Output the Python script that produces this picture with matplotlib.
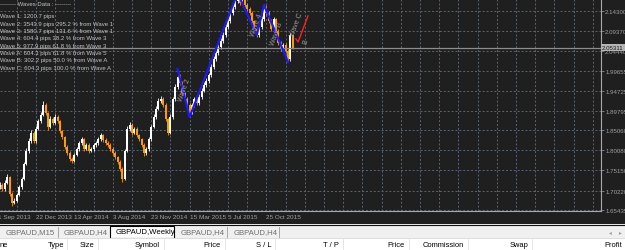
import matplotlib
matplotlib.use('Agg')
import matplotlib.pyplot as plt
from matplotlib.patches import Rectangle

# weekly GBPAUD candles
first_open = 1.7100
closes = [1.7158, 1.7059, 1.7207, 1.7354, 1.6937, 1.6716, 1.6765, 1.6912, 1.7108, 1.7305,
          1.7673, 1.7992, 1.8238, 1.8434, 1.8238, 1.8533, 1.8729, 1.8876, 1.9122, 1.8926,
          1.8582, 1.8778, 1.8680, 1.8827, 1.8729, 1.8483, 1.8336, 1.8091, 1.7943, 1.7796,
          1.7747, 1.7894, 1.8042, 1.8189, 1.8287, 1.8042, 1.8140, 1.7992, 1.8042, 1.8140,
          1.8189, 1.8287, 1.8385, 1.8262, 1.8189, 1.8140, 1.8042, 1.7943, 1.7845, 1.7722,
          1.7550, 1.7305, 1.7992, 1.8533, 1.8631, 1.8434, 1.8533, 1.8385, 1.8287, 1.8140,
          1.7943, 1.8042, 1.8287, 1.8582, 1.8827, 1.9024, 1.9220, 1.9269, 1.9122, 1.8778,
          1.8434, 1.8827, 1.9269, 1.9564, 1.9810, 1.9662, 1.9417, 1.9269, 1.9122, 1.8926,
          1.9122, 1.9269, 1.9171, 1.9318, 1.9466, 1.9613, 1.9711, 1.9859, 2.0055, 2.0252,
          2.0399, 2.0546, 2.0694, 2.0841, 2.1037, 2.1185, 2.1381, 2.1529, 2.1676, 2.1774,
          2.1627, 2.1725, 2.1578, 2.1479, 2.1381, 2.1185, 2.0988, 2.0841, 2.1037, 2.1234,
          2.1529, 2.1381, 2.1185, 2.0988, 2.1234, 2.0939, 2.0645, 2.0497, 2.0595, 2.0448,
          2.0252, 2.0841, 2.0531]
highs = [1.7230, 1.7200, 1.7280, 1.7420, 1.7380, 1.6980, 1.6840, 1.6950, 1.7150, 1.7350,
         1.7720, 1.8060, 1.8300, 1.8500, 1.8480, 1.8600, 1.8790, 1.8950, 1.9220, 1.9170,
         1.8960, 1.8850, 1.8820, 1.8900, 1.8870, 1.8760, 1.8520, 1.8370, 1.8130, 1.7990,
         1.7850, 1.7950, 1.8100, 1.8250, 1.8340, 1.8320, 1.8200, 1.8180, 1.8100, 1.8190,
         1.8250, 1.8340, 1.8440, 1.8420, 1.8300, 1.8230, 1.8180, 1.8080, 1.7990, 1.7880,
         1.7760, 1.7590, 1.8050, 1.8600, 1.8700, 1.8680, 1.8590, 1.8570, 1.8420, 1.8320,
         1.8180, 1.8100, 1.8340, 1.8640, 1.8890, 1.9090, 1.9290, 1.9340, 1.9310, 1.9160,
         1.8810, 1.8890, 1.9330, 1.9630, 1.9990, 1.9880, 1.9700, 1.9450, 1.9310, 1.9170,
         1.9180, 1.9330, 1.9310, 1.9380, 1.9530, 1.9680, 1.9780, 1.9920, 2.0120, 2.0320,
         2.0460, 2.0610, 2.0760, 2.0910, 2.1100, 2.1250, 2.1450, 2.1600, 2.1750, 2.1850,
         2.1820, 2.1800, 2.1770, 2.1620, 2.1530, 2.1430, 2.1220, 2.1030, 2.1090, 2.1300,
         2.1600, 2.1580, 2.1420, 2.1230, 2.1290, 2.1270, 2.0980, 2.0690, 2.0650, 2.0640,
         2.0490, 2.0900, 2.0870]
lows = [1.7050, 1.7000, 1.7020, 1.7180, 1.6880, 1.6640, 1.6680, 1.6730, 1.6880, 1.7060,
        1.7270, 1.7640, 1.7950, 1.8200, 1.8180, 1.8200, 1.8500, 1.8680, 1.8850, 1.8870,
        1.8520, 1.8550, 1.8620, 1.8650, 1.8680, 1.8430, 1.8290, 1.8040, 1.7900, 1.7750,
        1.7700, 1.7720, 1.7860, 1.8000, 1.8150, 1.8000, 1.8010, 1.7950, 1.7960, 1.8000,
        1.8100, 1.8150, 1.8250, 1.8220, 1.8150, 1.8090, 1.7990, 1.7900, 1.7800, 1.7680,
        1.7500, 1.7230, 1.7270, 1.7960, 1.8490, 1.8390, 1.8400, 1.8340, 1.8240, 1.8090,
        1.7880, 1.7900, 1.8000, 1.8250, 1.8550, 1.8790, 1.8990, 1.9180, 1.9070, 1.8720,
        1.8380, 1.8400, 1.8790, 1.9230, 1.9520, 1.9610, 1.9360, 1.9210, 1.9070, 1.8830,
        1.8890, 1.9080, 1.9120, 1.9130, 1.9280, 1.9430, 1.9570, 1.9670, 1.9820, 2.0010,
        2.0210, 2.0350, 2.0500, 2.0650, 2.0800, 2.0990, 2.1140, 2.1340, 2.1480, 2.1620,
        2.1570, 2.1580, 2.1520, 2.1420, 2.1320, 2.1130, 2.0930, 2.0790, 2.0800, 2.1000,
        2.1190, 2.1330, 2.1130, 2.0930, 2.0950, 2.0880, 2.0590, 2.0440, 2.0460, 2.0390,
        2.0180, 2.0210, 2.0490]

price_ticks = [2.14300, 2.09370, 2.04440, 1.99655, 1.94725, 1.89795, 1.85060, 1.80080,
               1.75150, 1.70220, 1.65435]
price_labels = ['2.14300', '2.09370', '2.04440', '1.99655', '1.94725', '1.89795', '1.85060',
                '1.80080', '1.75150', '1.70220', '1.65435']
last_price = 2.05311

date_bars = [-1, 15, 31, 47, 63, 79, 95, 111]
date_labels = ['1 Sep 2013', '22 Dec 2013', '13 Apr 2014', '3 Aug 2014', '23 Nov 2014',
               '15 Mar 2015', '5 Jul 2015', '25 Oct 2015']

# zigzag of the wave indicator
wave_bars = [74, 79, 99, 107, 110, 120]
wave_prices = [2.0006, 1.8827, 2.1872, 2.0841, 2.1578, 2.0178]
current_bars = [123.3, 124.2, 128.3]
current_prices = [2.0743, 2.0670, 2.1308]
wave_tags = ['Wave 2', 'Wave 4', 'Wave B', 'Wave C', 'B']
wave_tag_bars = [77.0, 107.0, 115.5, 123.8, 127.5]
wave_tag_prices = [1.9500, 2.1100, 2.0900, 2.1110, 2.0690]

info_lines = ['-------- Waves Data : --------',
              'Wave 1: 1200.7 pips',
              'Wave 2: 3543.9 pips 295.2 % from Wave 1',
              'Wave 3: 1580.7 pips 131.6 % from Wave 1',
              'Wave 4: 604.4 pips 38.2 % from Wave 3',
              'Wave 5: 977.9 pips 61.8 % from Wave 3',
              'Wave A: 604.3 pips 61.8 % from Wave 5',
              'Wave B: 302.2 pips 50.0 % from Wave A',
              'Wave C: 604.3 pips 100.0 % from Wave A']

tab_names = ['GBPAUD,M15', 'GBPAUD,H4', 'GBPAUD,Weekly', 'GBPAUD,H4', 'GBPAUD,H4']
tab_x = [6, 64, 116, 181, 234]
header_names = ['Type', 'Size', 'Symbol', 'Price', 'S / L', 'T / P', 'Price', 'Commission',
                'Swap', 'Profit']
header_right = [64, 94, 160, 221, 271, 339, 405, 464, 528, 622]

W, H = 625, 251
BG = '#1f1f1f'
FONT = 'Liberation Sans'


def draw_candles(ax):
    opens = [first_open] + closes[:-1]
    for i in range(len(closes)):
        o, c = opens[i], closes[i]
        col = '#ffffff' if c >= o else '#ff9a00'
        ax.vlines(i, lows[i], highs[i], color=col, lw=0.6, zorder=3)
        body = max(abs(c - o), 0.0012)
        ax.add_patch(Rectangle((i - 0.38, min(o, c)), 0.76, body, facecolor=col,
                               edgecolor='none', zorder=4))


def main():
    plt.rcParams['font.family'] = [FONT, 'DejaVu Sans']
    fig = plt.figure(figsize=(W / 100, H / 100), dpi=100, facecolor=BG)

    ax = fig.add_axes([0, 39 / H, 601 / W, 212 / H])
    ax.set_facecolor(BG)
    ax.set_xlim(0, 601 / 2.4)
    ax.set_ylim(2.1725 - 212 * 0.0024556, 2.1725)

    # grid
    for p in price_ticks:
        ax.axhline(p, color='#5a6472', lw=0.7, ls=(0, (2, 2)), zorder=1)
    for b in range(7, 251, 8):
        ax.axvline(b, color='#5a6472', lw=0.7, ls=(0, (2, 2)), zorder=1)

    draw_candles(ax)

    ax.plot(wave_bars, wave_prices, color='#1a1aff', lw=1.6, zorder=6)
    ax.plot(current_bars, current_prices, color='#ff2020', lw=1.0, zorder=6)
    for t, b, p in zip(wave_tags, wave_tag_bars, wave_tag_prices):
        ax.text(b, p, t, color='#9a9a9a', fontsize=5.0, rotation=70,
                ha='center', va='center', zorder=7)

    ax.axhline(last_price, color='#8c8c8c', lw=0.9, zorder=5)

    ax.yaxis.tick_right()
    ax.set_yticks(price_ticks)
    ax.set_yticklabels(price_labels)
    ax.tick_params(axis='y', colors='#a0a0a0', labelsize=4.4, length=2, pad=1, width=0.5)
    ax.set_xticks([])
    for b, lab in zip(date_bars, date_labels):
        ax.text(b, -0.015, lab, transform=ax.get_xaxis_transform(), color='#a0a0a0',
                fontsize=4.6, ha='left', va='top', clip_on=False)
    for s in ['top', 'left']:
        ax.spines[s].set_visible(False)
    for s in ['right', 'bottom']:
        ax.spines[s].set_color('#a8a8a8')
        ax.spines[s].set_linewidth(0.8)

    ax.text(1.002, last_price, '2.05311', transform=ax.get_yaxis_transform(),
            fontsize=4.4, color='#1a1a1a', va='center', ha='left', clip_on=False, zorder=10,
            bbox=dict(boxstyle='square,pad=0.15', fc='#b4b4b4', ec='none'))

    # pixel overlay for the text panel, tabs and terminal header
    ui = fig.add_axes([0, 0, 1, 1], zorder=20)
    ui.set_xlim(0, W)
    ui.set_ylim(H, 0)
    ui.axis('off')
    ui.patch.set_alpha(0)

    for k, line in enumerate(info_lines):
        ui.text(0, 5 + 7.35 * k if k == 0 else 9.5 + 7.35 * k, line, color='#c4c4c4',
                fontsize=4.3, va='center', ha='left')

    ui.add_patch(Rectangle((0, 225), W, 14, facecolor='#f0f0f0', edgecolor='none'))
    ui.plot([0, W], [225.5, 225.5], color='#101010', lw=0.8)
    ui.add_patch(Rectangle((110, 226.5), 64, 12.5, facecolor='#ffffff',
                           edgecolor='#000000', lw=0.8))
    for name, x in zip(tab_names, tab_x):
        sel = name.endswith('Weekly')
        ui.text(x, 233, name, fontsize=5.6, va='center', ha='left',
                color='#000000' if sel else '#6e6e6e')
    for x in [58, 227, 279]:
        ui.plot([x, x], [228, 238], color='#9a9a9a', lw=0.6)
    ui.text(610, 233, '\u25c2', fontsize=4, color='#9a9a9a', va='center', ha='center',
            family='DejaVu Sans')
    ui.text(620, 233, '\u25b8', fontsize=4, color='#9a9a9a', va='center', ha='center',
            family='DejaVu Sans')

    ui.add_patch(Rectangle((0, 239), W, 12, facecolor='#ffffff', edgecolor='none'))
    ui.plot([0, W], [239.3, 239.3], color='#d8d8d8', lw=0.6)
    ui.text(0, 246, 'ne', fontsize=5.4, va='center', ha='left', color='#000000')
    for name, xr in zip(header_names, header_right):
        ui.text(xr, 246, name, fontsize=5.4, va='center', ha='right', color='#000000')
    for x in [67, 98, 164, 225, 275, 343, 409, 468, 532]:
        ui.plot([x, x], [240, 251], color='#e2e2e2', lw=0.6)

    fig.savefig('out.png', dpi=100, facecolor=BG)


if __name__ == '__main__':
    main()
